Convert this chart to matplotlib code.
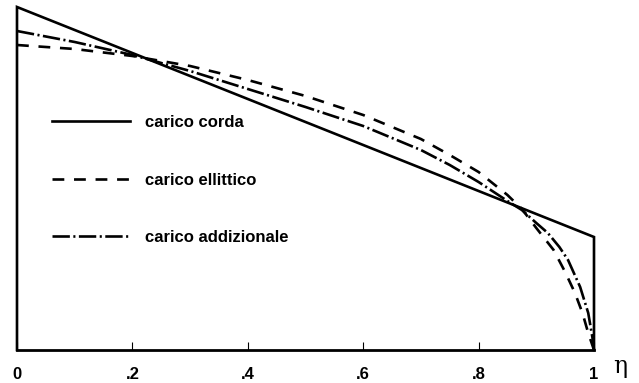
import matplotlib
matplotlib.use("Agg")
import matplotlib.pyplot as plt

plt.rcParams['font.family'] = ['Liberation Sans', 'DejaVu Sans']
plt.rcParams['lines.scale_dashes'] = False

# carico corda (trapezio, chiuso sui bordi)
eta_corda = [0.0, 0.0, 1.0, 1.0]
y_corda = [0.0, 3.43, 1.13, 0.0]

# carico ellittico
eta_ell = [0.0, 0.1, 0.2, 0.3, 0.4, 0.5, 0.6, 0.7, 0.75, 0.8, 0.85, 0.875,
           0.9, 0.93, 0.95, 0.967, 0.98, 0.99, 1.0]
y_ell = [3.05, 3.01, 2.94, 2.84, 2.70, 2.54, 2.35, 2.11, 1.95, 1.78, 1.55, 1.41,
         1.22, 1.00, 0.78, 0.57, 0.37, 0.17, 0.0]

# carico addizionale
eta_add = [0.0, 0.1, 0.2, 0.3, 0.4, 0.5, 0.6, 0.7, 0.75, 0.8, 0.85, 0.875,
           0.9, 0.92, 0.94, 0.955, 0.976, 0.99, 0.998, 1.0]
y_add = [3.19, 3.08, 2.95, 2.79, 2.61, 2.43, 2.24, 2.00, 1.85, 1.68, 1.49, 1.40,
         1.27, 1.17, 1.03, 0.90, 0.63, 0.37, 0.10, 0.0]

xticks = [0, 0.2, 0.4, 0.6, 0.8, 1.0]
xticklabels = ['0', '.2', '.4', '.6', '.8', '1']

fig = plt.figure(figsize=(6.39, 3.83), dpi=100)
ax = fig.add_axes([17 / 639, 33 / 383, 577 / 639, 350 / 383])

ax.plot(eta_corda, y_corda, color='black', lw=1.9, clip_on=False,
        solid_joinstyle='miter', label='carico corda')
ax.plot(eta_ell, y_ell, color='black', lw=1.9, clip_on=False,
        dashes=(8.5, 7), label='carico ellittico')
ax.plot(eta_add, y_add, color='black', lw=1.9, clip_on=False,
        dashes=(12.5, 2.5, 1.5, 2.5), label='carico addizionale')

ax.set_xlim(0, 1)
ax.set_ylim(0, 3.5)
for s in ['left', 'right', 'top']:
    ax.spines[s].set_visible(False)
ax.spines['bottom'].set_linewidth(2.0)
ax.set_yticks([])
ax.set_xticks(xticks)
ax.set_xticklabels(xticklabels, fontweight='bold', fontsize=12)
ax.tick_params(axis='x', direction='in', length=6, width=0.8, pad=12)

ax.legend(loc='center left', bbox_to_anchor=(52 / 639, 1 - 180 / 383),
          bbox_transform=fig.transFigure, frameon=False, borderpad=0,
          borderaxespad=0, handlelength=4.7, handletextpad=0.9,
          labelspacing=2.55, prop={'weight': 'bold', 'size': 12})

fig.text(620 / 639, 1 - 366 / 383, 'η', fontsize=17, ha='center', va='center',
         family='DejaVu Serif')

fig.savefig('out.png', dpi=100)
